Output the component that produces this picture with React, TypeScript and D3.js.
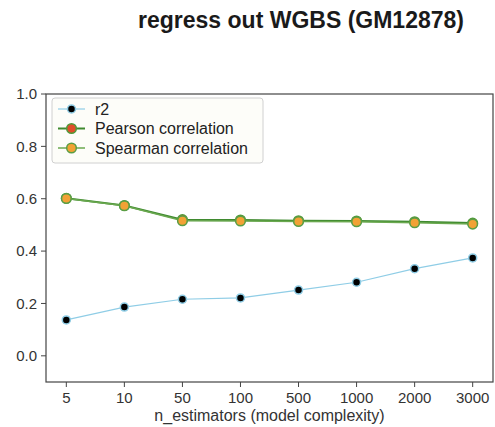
import React from "react";
import * as d3 from "d3";

const categories = ["5", "10", "50", "100", "500", "1000", "2000", "3000"];
const r2Values = [0.137, 0.186, 0.216, 0.221, 0.251, 0.281, 0.333, 0.374];
const pearsonValues = [0.602, 0.574, 0.52, 0.519, 0.516, 0.515, 0.512, 0.507];
const spearmanValues = [0.601, 0.573, 0.516, 0.515, 0.513, 0.512, 0.508, 0.503];
const yTicks = [0.0, 0.2, 0.4, 0.6, 0.8, 1.0];

const series = [
    { label: "r2", values: r2Values, line: "#8fcde6", fill: "#000000", edge: "#8fcde6", width: 1.2, r: 4 },
    { label: "Pearson correlation", values: pearsonValues, line: "#3f8a2f", fill: "#e04e2a", edge: "#4f9a3a", width: 2, r: 4.8 },
    { label: "Spearman correlation", values: spearmanValues, line: "#6aa84f", fill: "#f2a235", edge: "#5a9e45", width: 1.5, r: 4.8 },
];

const W = 495;
const H = 427;
const margin = { top: 94, right: 2, bottom: 45, left: 46 };
const font = "Liberation Sans, Arial, Helvetica, sans-serif";

export default function App() {
    const plotW = W - margin.left - margin.right;
    const plotH = H - margin.top - margin.bottom;

    const x = d3.scalePoint<string>().domain(categories).range([0, plotW]).padding(0.35);
    const y = d3.scaleLinear().domain([-0.1, 1.0]).range([plotH, 0]);

    const line = (vals: number[]) =>
        d3.line<number>()
            .x((d, i) => x(categories[i]) as number)
            .y(d => y(d))(vals) as string;

    const legendX = 6;
    const legendY = 4;

    return (
        <svg width={W} height={H} style={{ position: "absolute", left: 0, top: 0, background: "white" }}>
            <text x={301} y={28} textAnchor="middle" fontFamily={font} fontWeight="bold" fontSize={23} fill="#1a1a1a">
                regress out WGBS (GM12878)
            </text>
            <g transform={`translate(${margin.left},${margin.top})`}>
                {series.map(s => (
                    <g key={s.label}>
                        <path d={line(s.values)} fill="none" stroke={s.line} strokeWidth={s.width} />
                        {s.values.map((v, i) => (
                            <circle key={i} cx={x(categories[i])} cy={y(v)} r={s.r} fill={s.fill} stroke={s.edge} strokeWidth={1.5} />
                        ))}
                    </g>
                ))}

                <rect x={0} y={0} width={plotW} height={plotH} fill="none" stroke="#444" strokeWidth={1.2} />

                {yTicks.map(t => (
                    <g key={t} transform={`translate(0,${y(t)})`}>
                        <line x1={-5} x2={0} stroke="#444" />
                        <text x={-9} dy="0.35em" textAnchor="end" fontFamily={font} fontSize={15} fill="#333">
                            {t.toFixed(1)}
                        </text>
                    </g>
                ))}
                {categories.map(c => (
                    <g key={c} transform={`translate(${x(c)},${plotH})`}>
                        <line y1={0} y2={5} stroke="#444" />
                        <text y={16} dy="0.35em" textAnchor="middle" fontFamily={font} fontSize={15} fill="#333">
                            {c}
                        </text>
                    </g>
                ))}
                <text x={plotW / 2} y={plotH + 33} dy="0.35em" textAnchor="middle" fontFamily={font} fontSize={16} fill="#333">
                    n_estimators (model complexity)
                </text>

                <rect x={legendX} y={legendY} width={211} height={65} rx={3} fill="#fdfdf9" stroke="#d0d0d0" />
                {series.map((s, i) => {
                    const ly = legendY + 11 + i * 19.5;
                    return (
                        <g key={s.label} transform={`translate(${legendX + 6},${ly})`}>
                            <line x1={0} x2={27} stroke={s.line} strokeWidth={s.width} />
                            <circle cx={13.5} cy={0} r={s.r} fill={s.fill} stroke={s.edge} strokeWidth={1.5} />
                            <text x={37} dy="0.35em" fontFamily={font} fontSize={16} fill="#222">
                                {s.label}
                            </text>
                        </g>
                    );
                })}
            </g>
        </svg>
    );
}
